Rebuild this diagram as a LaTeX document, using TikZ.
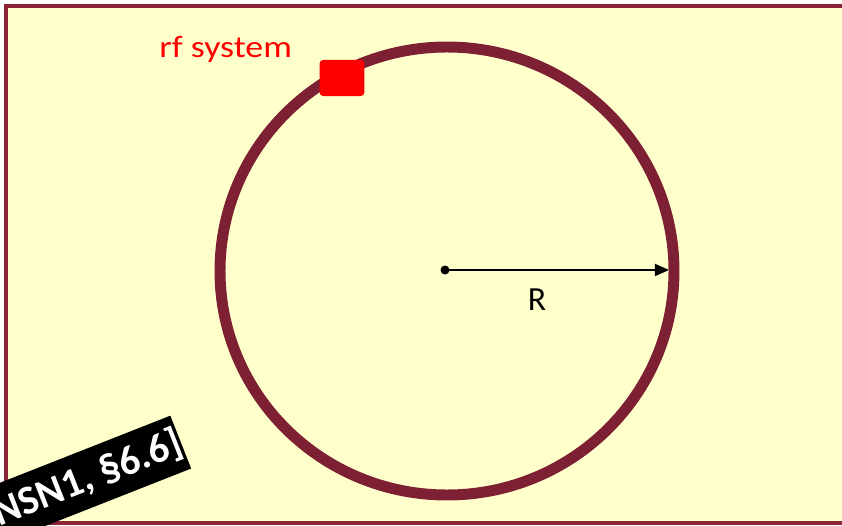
\documentclass[tikz,border=0pt]{standalone}
\usepackage{fontspec}
\setmainfont{Carlito}
\usepackage{xcolor}
\usetikzlibrary{arrows.meta,positioning}

\definecolor{slidebg}{HTML}{FFFFCC}
\definecolor{framered}{HTML}{8C2437}
\definecolor{ringred}{HTML}{7E2033}
\definecolor{rfred}{HTML}{FF0000}

\begin{document}
\begin{tikzpicture}[
  x=0.025cm,y=-0.025cm,
  frame/.style={draw=framered,line width=2.2pt,fill=slidebg},
  ring/.style={draw=ringred,line width=7.8pt},
  cavity/.style={fill=rfred,rounded corners=2.5pt,minimum width=1.12cm,minimum height=0.9cm,inner sep=0pt},
  lbl/.style={inner sep=0pt,font=\fontsize{22}{26}\selectfont},
  tag/.style={fill=black,text=white,inner sep=0pt,minimum height=1.42cm,
    font=\bfseries\fontsize{29}{34}\selectfont,rotate=21.5},
  arr/.style={-{Triangle[length=10pt,width=8.5pt]},line width=1.5pt}
]
\useasboundingbox (0,0) rectangle (842,526);
\clip (0,0) rectangle (842,526);
% slide
\draw[frame] (6,6) rectangle (870,523);
% ring
\draw[ring] (447,271) ellipse [x radius=227,y radius=224];
\node[cavity] (rf) at (342,78) {};
\node[lbl,text=rfred,anchor=base west] (rflbl) at (159,57) {\scalebox{1.16}[1]{rf system}};
% radius
\fill (445,270) circle (4.5);
\coordinate (ctr) at (445,270);
\coordinate (rim) at (669,270);
\draw[arr] (ctr) -- (rim);
\node[lbl,font=\fontsize{24}{29}\selectfont] (rlbl) at (537,300) {R};
% reference tag
\node[tag,anchor=east] (ref) at (181,442) {\hspace{6pt}[NSN1, §6.6]\hspace{15pt}};
\end{tikzpicture}
\end{document}
